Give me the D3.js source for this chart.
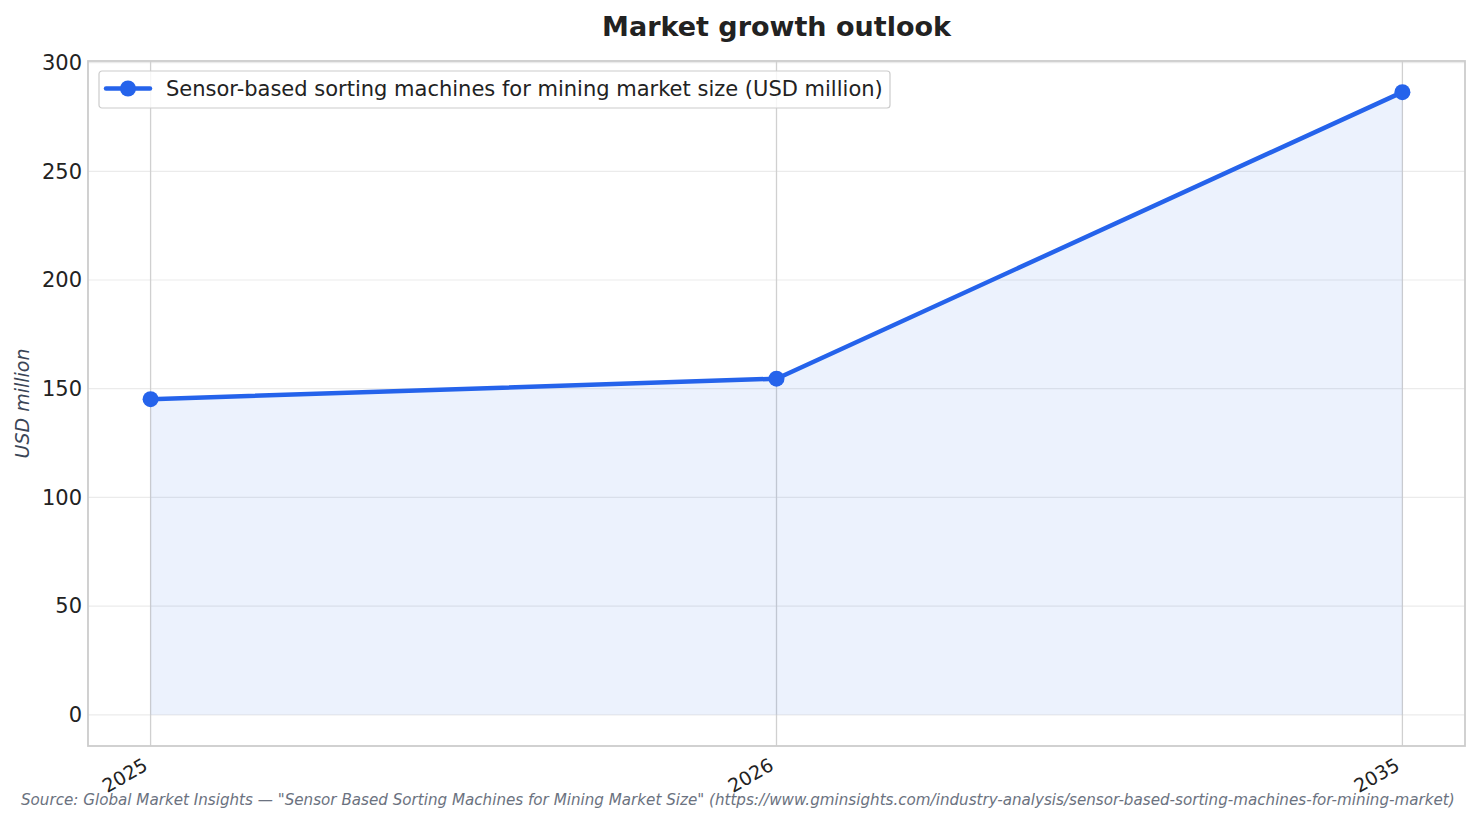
<!DOCTYPE html>
<html><head><meta charset="utf-8">
<script src="https://cdn.jsdelivr.net/npm/d3@7"></script>
<style>body{margin:0;background:#fff}svg{display:block}</style>
</head><body>
<script>
const years = ["2025", "2026", "2035"];
const marketSize = [145.2, 154.6, 286.4];
const yTicks = [0, 50, 100, 150, 200, 250, 300];
const seriesName = "Sensor-based sorting machines for mining market size (USD million)";
const titleText = "Market growth outlook";
const yLabel = "USD million";
const sourceText = "Source: Global Market Insights \u2014 \"Sensor Based Sorting Machines for Mining Market Size\" (https://www.gminsights.com/industry-analysis/sensor-based-sorting-machines-for-mining-market)";

const W = 1481, H = 824;
const m = {l: 88, r: 16, t: 61, b: 78};
const font = "DejaVu Sans, sans-serif";
const blue = "#2563eb";

const svg = d3.select("body").append("svg").attr("width", W).attr("height", H);
const data = years.map((y, i) => ({year: y, v: marketSize[i]}));

const x = d3.scalePoint().domain(years).range([m.l, W - m.r]).padding(0.1);
const maxV = d3.max(marketSize);
const y = d3.scaleLinear().domain([-0.05 * maxV, maxV * 1.05]).range([H - m.b, m.t]);

// horizontal grid
svg.append("g").selectAll("line").data(yTicks).join("line")
  .attr("x1", m.l).attr("x2", W - m.r)
  .attr("y1", d => y(d)).attr("y2", d => y(d))
  .attr("stroke", "#ebebeb").attr("stroke-width", 1.2);
// vertical grid
svg.append("g").selectAll("line").data(years).join("line")
  .attr("x1", d => x(d)).attr("x2", d => x(d))
  .attr("y1", m.t).attr("y2", H - m.b)
  .attr("stroke", "#d0d0d0").attr("stroke-width", 1.3);

// area
svg.append("path").datum(data)
  .attr("d", d3.area().x(d => x(d.year)).y0(y(0)).y1(d => y(d.v)))
  .attr("fill", blue).attr("fill-opacity", 0.085);
// line
svg.append("path").datum(data)
  .attr("d", d3.line().x(d => x(d.year)).y(d => y(d.v)))
  .attr("fill", "none").attr("stroke", blue).attr("stroke-width", 4.5)
  .attr("stroke-linejoin", "round").attr("stroke-linecap", "round");
svg.append("g").selectAll("circle").data(data).join("circle")
  .attr("cx", d => x(d.year)).attr("cy", d => y(d.v)).attr("r", 8).attr("fill", blue);

// frame
svg.append("rect").attr("x", m.l).attr("y", m.t)
  .attr("width", W - m.r - m.l).attr("height", H - m.b - m.t)
  .attr("fill", "none").attr("stroke", "#cccccc").attr("stroke-width", 1.8);

// y axis
const yAxis = svg.append("g").attr("transform", `translate(${m.l},0)`)
  .call(d3.axisLeft(y).tickValues(yTicks).tickSize(0).tickPadding(6));
yAxis.select(".domain").remove();
yAxis.selectAll("text").attr("font-family", font).attr("font-size", 21).attr("fill", "#222");

// x axis
const xAxis = svg.append("g").attr("transform", `translate(0,${H - m.b})`)
  .call(d3.axisBottom(x).tickSize(0).tickPadding(0));
xAxis.select(".domain").remove();
xAxis.selectAll("text")
  .attr("font-family", font).attr("font-size", 19).attr("fill", "#222")
  .attr("text-anchor", "end").attr("dy", null).attr("y", 0)
  .attr("transform", "translate(-2,23) rotate(-30)");

// title
svg.append("text").attr("x", (m.l + W - m.r) / 2).attr("y", 36)
  .attr("text-anchor", "middle").attr("font-family", font)
  .attr("font-size", 27).attr("font-weight", "bold").attr("fill", "#222").text(titleText);

// y label
svg.append("text").attr("transform", `translate(29,${(m.t + H - m.b) / 2}) rotate(-90)`)
  .attr("text-anchor", "middle").attr("font-family", font).attr("font-style", "italic")
  .attr("font-size", 19).attr("fill", "#3a4556").text(yLabel);

// legend
const lg = svg.append("g").attr("transform", "translate(99,71)");
lg.append("rect").attr("width", 791).attr("height", 37).attr("rx", 3)
  .attr("fill", "#fff").attr("fill-opacity", 0.8).attr("stroke", "#cccccc").attr("stroke-width", 1.2);
lg.append("line").attr("x1", 7).attr("x2", 51).attr("y1", 17.5).attr("y2", 17.5)
  .attr("stroke", blue).attr("stroke-width", 4.5).attr("stroke-linecap", "round");
lg.append("circle").attr("cx", 29).attr("cy", 17.5).attr("r", 8).attr("fill", blue);
lg.append("text").attr("x", 67).attr("y", 25).attr("font-family", font)
  .attr("font-size", 21).attr("fill", "#222").text(seriesName);

// source
svg.append("text").attr("x", 21).attr("y", 805).attr("font-family", font)
  .attr("font-style", "italic").attr("font-size", 15.15).attr("fill", "#6b7280").text(sourceText);
</script>
</body></html>
